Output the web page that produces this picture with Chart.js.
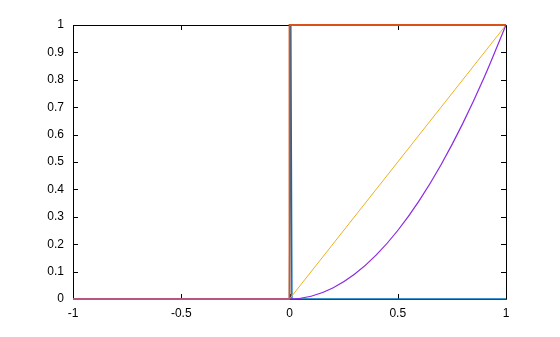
<!DOCTYPE html>
<html lang="en">
<head>
    <meta charset="UTF-8">
    <title>Step, impulse, ramp and parabola</title>
    <script src="https://cdn.jsdelivr.net/npm/chart.js"></script>
    <style>
        body {
            margin: 0;
            padding: 0;
            background-color: #fff;
        }
        canvas {
            display: block;
        }
    </style>
</head>
<body>
<canvas id="mainCanvas" width="560" height="337"></canvas>

<script>
    // values
    const xTicks = [-1, -0.5, 0, 0.5, 1];
    const xTickLabels = ['-1', '-0.5', '0', '0.5', '1'];
    const yTicks = [0, 0.1, 0.2, 0.3, 0.4, 0.5, 0.6, 0.7, 0.8, 0.9, 1];
    const yTickLabels = ['0', '0.1', '0.2', '0.3', '0.4', '0.5', '0.6', '0.7', '0.8', '0.9', '1'];

    const impulseX = [-1, 0, 0.006, 0.011, 1];
    const impulseY = [0, 0, 1, 0, 0];

    const stepX = [-1, 0, 0, 1];
    const stepY = [0, 0, 1, 1];

    const rampX = [-1, 0, 1];
    const rampY = [0, 0, 1];

    const parabolaX = [-1, 0, 0.1, 0.2, 0.3, 0.4, 0.5, 0.6, 0.7, 0.8, 0.9, 1];
    const parabolaY = [0, 0, 0.01, 0.04, 0.09, 0.16, 0.25, 0.36, 0.49, 0.64, 0.81, 1];

    function toPoints(xs, ys) {
        return xs.map((x, i) => ({x: x, y: ys[i]}));
    }

    // box round the plot area and inward ticks on all four sides
    const boxPlugin = {
        id: 'boxPlugin',
        beforeDatasetsDraw(chart) {
            const ctx = chart.ctx;
            const a = chart.chartArea;
            const xs = chart.scales.x;
            const ys = chart.scales.y;
            const len = 5;
            ctx.save();
            ctx.strokeStyle = '#000';
            ctx.lineWidth = 1;
            ctx.beginPath();
            ctx.rect(Math.round(a.left) + 0.5, Math.round(a.top) + 0.5,
                Math.round(a.right - a.left), Math.round(a.bottom - a.top));
            xTicks.forEach(v => {
                const px = Math.round(xs.getPixelForValue(v)) + 0.5;
                ctx.moveTo(px, a.bottom);
                ctx.lineTo(px, a.bottom - len);
                ctx.moveTo(px, a.top);
                ctx.lineTo(px, a.top + len);
            });
            yTicks.forEach(v => {
                const py = Math.round(ys.getPixelForValue(v)) + 0.5;
                ctx.moveTo(a.left, py);
                ctx.lineTo(a.left + len, py);
                ctx.moveTo(a.right, py);
                ctx.lineTo(a.right - len, py);
            });
            ctx.stroke();
            ctx.restore();
        }
    };

    const ctx = document.getElementById('mainCanvas').getContext('2d');
    const chart = new Chart(ctx, {
        type: 'line',
        data: {
            // first dataset ends up on top
            datasets: [
                {
                    label: 'parabola',
                    data: toPoints(parabolaX, parabolaY),
                    borderColor: '#8b2be2',
                    borderWidth: 1.2,
                    cubicInterpolationMode: 'monotone',
                    clip: false
                },
                {
                    label: 'ramp',
                    data: toPoints(rampX, rampY),
                    borderColor: '#edb120',
                    borderWidth: 1,
                    clip: false
                },
                {
                    label: 'step',
                    data: toPoints(stepX, stepY),
                    borderColor: '#d95319',
                    borderWidth: 1.8,
                    clip: false
                },
                {
                    label: 'impulse',
                    data: toPoints(impulseX, impulseY),
                    borderColor: '#0072bd',
                    borderWidth: 1.5,
                    clip: false
                }
            ]
        },
        options: {
            responsive: false,
            animation: false,
            elements: {
                point: {radius: 0},
                line: {tension: 0}
            },
            layout: {
                padding: {left: 0, top: 25, right: 54, bottom: 0}
            },
            plugins: {
                legend: {display: false},
                tooltip: {enabled: false}
            },
            scales: {
                x: {
                    type: 'linear',
                    min: -1,
                    max: 1,
                    afterBuildTicks: scale => {
                        scale.ticks = xTicks.map(v => ({value: v}));
                    },
                    afterFit: scale => {
                        scale.height = 38;
                    },
                    grid: {display: false, drawTicks: false},
                    border: {display: false},
                    ticks: {
                        padding: 7,
                        color: '#000',
                        font: {family: 'Liberation Sans', size: 12},
                        maxRotation: 0,
                        callback: (v) => xTickLabels[xTicks.indexOf(v)]
                    }
                },
                y: {
                    type: 'linear',
                    min: 0,
                    max: 1,
                    afterBuildTicks: scale => {
                        scale.ticks = yTicks.map(v => ({value: v}));
                    },
                    afterFit: scale => {
                        scale.width = 73;
                    },
                    grid: {display: false, drawTicks: false},
                    border: {display: false},
                    ticks: {
                        padding: 9,
                        color: '#000',
                        font: {family: 'Liberation Sans', size: 12},
                        callback: (v) => yTickLabels[yTicks.indexOf(v)]
                    }
                }
            }
        },
        plugins: [boxPlugin]
    });
</script>
</body>
</html>
